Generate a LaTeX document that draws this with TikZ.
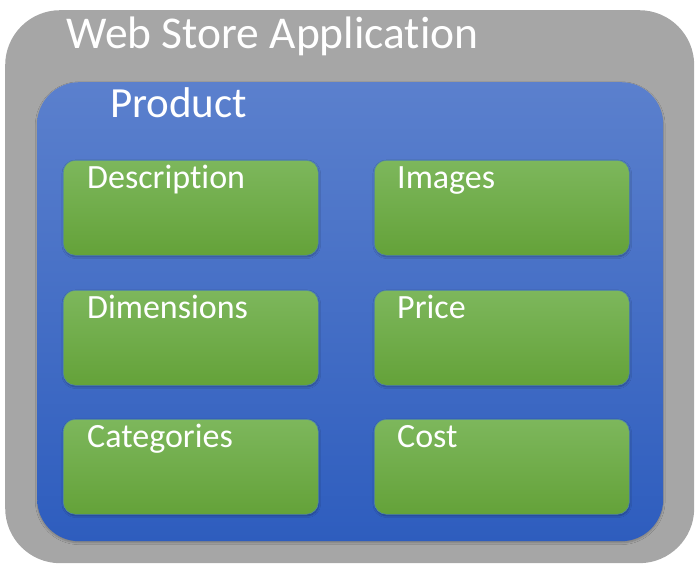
\documentclass[tikz,border=0pt]{standalone}
\usepackage{fontspec}
\setmainfont{Carlito}[Ligatures=NoCommon]
\usetikzlibrary{shadows.blur}
\definecolor{appgray}{HTML}{A6A6A6}
\definecolor{blueTop}{HTML}{5B80CD}
\definecolor{blueBot}{HTML}{2E5DBE}
\definecolor{greenTop}{HTML}{7DB75C}
\definecolor{greenBot}{HTML}{64A239}
\definecolor{greenEdge}{HTML}{4F86A8}
\begin{document}
\begin{tikzpicture}[x=1pt,y=-1pt,
  appbox/.style={rectangle, rounded corners=55pt, fill=appgray, anchor=north west,
    minimum width=689pt, minimum height=553pt, inner sep=0pt},
  entitybox/.style={rectangle, rounded corners=42pt, top color=blueTop, bottom color=blueBot,
    anchor=north west, minimum width=626pt, minimum height=459pt, inner sep=0pt,
    blur shadow={shadow blur steps=6, shadow xshift=0pt, shadow yshift=-1.5pt, shadow opacity=25}},
  fieldbox/.style={rectangle, rounded corners=12pt, top color=greenTop, bottom color=greenBot,
    draw=greenEdge, line width=0.6pt, anchor=north west,
    minimum width=255pt, minimum height=95pt, inner sep=0pt,
    blur shadow={shadow blur steps=5, shadow xshift=0.5pt, shadow yshift=-1.5pt, shadow opacity=30}},
  title/.style={anchor=base west, text=white, inner sep=0pt, font=\fontsize{45.5}{50}\selectfont},
  subtitle/.style={anchor=base west, text=white, inner sep=0pt, font=\fontsize{43}{48}\selectfont},
  field/.style={anchor=base west, text=white, inner sep=0pt, font=\fontsize{34}{38}\selectfont}]
  \useasboundingbox (0,0) rectangle (699,567);

  % outer application container
  \node[appbox] (app) at (5,10) {};
  \node[title] (apptitle) at (66,49) {Web Store Application};

  % product entity
  \node[entitybox] (product) at (37,82) {};
  \node[subtitle] (producttitle) at (110,118) {Product};

  % product fields
  \node[fieldbox] (desc) at (63,160) {};
  \node[fieldbox] (img)  at (374,160) {};
  \node[fieldbox] (dim)  at (63,290) {};
  \node[fieldbox] (price) at (374,290) {};
  \node[fieldbox] (cat)  at (63,419) {};
  \node[fieldbox] (cost) at (374,419) {};

  \node[field] (desclabel)  at (87,189)  {Description};
  \node[field] (imglabel)   at (397,189) {Images};
  \node[field] (dimlabel)   at (87,318)  {Dimensions};
  \node[field] (pricelabel) at (397,318) {Price};
  \node[field] (catlabel)   at (87,447)  {Categories};
  \node[field] (costlabel)  at (397,447) {Cost};
\end{tikzpicture}
\end{document}
